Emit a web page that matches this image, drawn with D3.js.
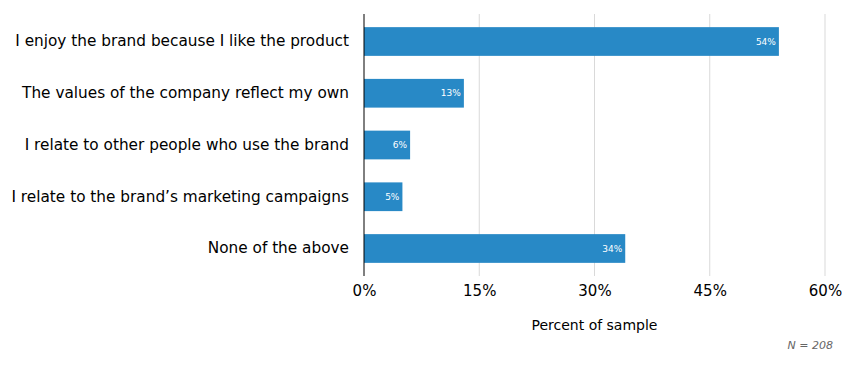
<!DOCTYPE html>
<html>
<head>
<meta charset="utf-8">
<script src="https://cdn.jsdelivr.net/npm/d3@7"></script>
<style>
  body { margin: 0; background: #fff; }
  text { font-family: "DejaVu Sans", Verdana, sans-serif; }
</style>
</head>
<body>
<div id="chart-area"></div>
<script>
const categories = [
    "I enjoy the brand because I like the product",
    "The values of the company reflect my own",
    "I relate to other people who use the brand",
    "I relate to the brand\u2019s marketing campaigns",
    "None of the above"
]
const values = [54, 13, 6, 5, 34]
const ticks = [0, 15, 30, 45, 60]

const MARGIN = {LEFT: 364, RIGHT: 36, TOP: 14, BOTTOM: 93}
const WIDTH = 861 - MARGIN.LEFT - MARGIN.RIGHT
const HEIGHT = 369 - MARGIN.TOP - MARGIN.BOTTOM

const svg = d3.select("#chart-area").append("svg")
    .attr("width", 861)
    .attr("height", 369)

const g = svg.append("g")
    .attr("transform", `translate(${MARGIN.LEFT},${MARGIN.TOP})`)

const x = d3.scaleLinear().domain([0, 60]).range([0, WIDTH])
const y = d3.scaleBand().domain(categories).range([0, HEIGHT])
    .paddingInner(0.445)
    .paddingOuter(0.254)

// gridlines
g.selectAll("line.grid").data(ticks.filter(d => d > 0))
    .enter().append("line")
    .attr("class", "grid")
    .attr("x1", d => x(d)).attr("x2", d => x(d))
    .attr("y1", 0).attr("y2", HEIGHT)
    .attr("stroke", "#d9d9d9")
    .attr("stroke-width", 1)

// x tick labels
const xAxisCall = d3.axisBottom(x).tickValues(ticks).tickFormat(d => d + "%").tickSize(0).tickPadding(9)
const xAxis = g.append("g")
    .attr("transform", `translate(0, ${HEIGHT})`)
    .call(xAxisCall)
xAxis.select(".domain").remove()
xAxis.selectAll("text")
    .attr("font-size", "15px")
    .attr("fill", "#000")
    .style("font-family", "'DejaVu Sans', Verdana, sans-serif")

// bars
g.selectAll("rect").data(values)
    .enter().append("rect")
    .attr("x", 0)
    .attr("y", (d, i) => y(categories[i]))
    .attr("width", d => x(d))
    .attr("height", y.bandwidth())
    .attr("fill", "#2889c6")

// bar value labels
g.selectAll("text.val").data(values)
    .enter().append("text")
    .attr("class", "val")
    .attr("x", d => x(d) - 3)
    .attr("y", (d, i) => y(categories[i]) + y.bandwidth() / 2)
    .attr("dy", "0.35em")
    .attr("text-anchor", "end")
    .attr("font-size", "9px")
    .attr("fill", "#fff")
    .text(d => d + "%")

// y category labels
const yAxisCall = d3.axisLeft(y).tickSize(0).tickPadding(15)
const yAxis = g.append("g").call(yAxisCall)
yAxis.select(".domain").remove()
yAxis.selectAll("text")
    .attr("font-size", "15.3px")
    .attr("fill", "#000")
    .style("font-family", "'DejaVu Sans', Verdana, sans-serif")

// y axis line
g.append("line")
    .attr("x1", 0).attr("x2", 0)
    .attr("y1", 0).attr("y2", HEIGHT)
    .attr("stroke", "#000")
    .attr("stroke-width", 1)

// x label
g.append("text")
    .attr("x", WIDTH / 2)
    .attr("y", HEIGHT + 54)
    .attr("font-size", "14px")
    .attr("text-anchor", "middle")
    .attr("fill", "#000")
    .text("Percent of sample")

// sample note
svg.append("text")
    .attr("x", 833)
    .attr("y", 349)
    .attr("font-size", "11px")
    .attr("font-style", "italic")
    .attr("text-anchor", "end")
    .attr("fill", "#666")
    .text("N = 208")
</script>
</body>
</html>
